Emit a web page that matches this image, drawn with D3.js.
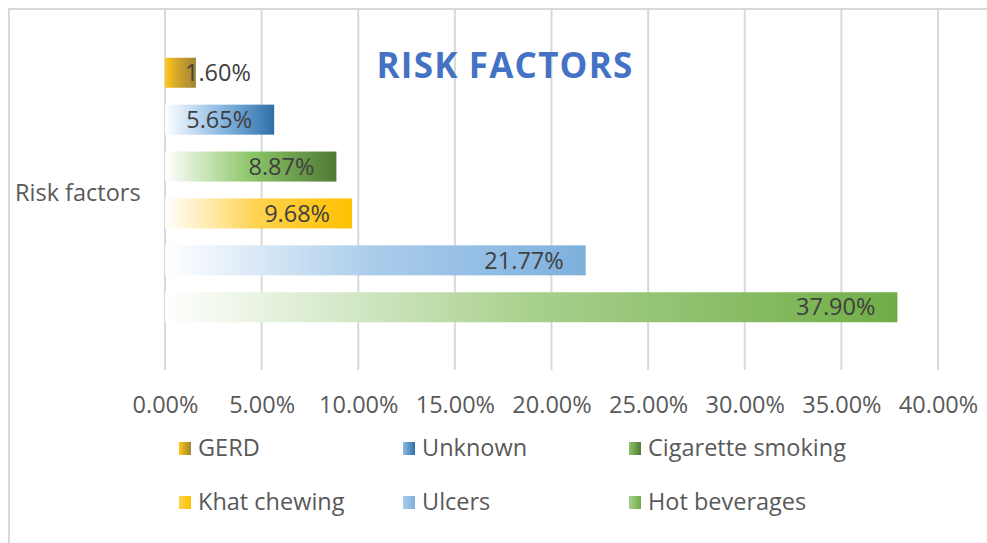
<!DOCTYPE html>
<html><head><meta charset="utf-8">
<script src="https://cdn.jsdelivr.net/npm/d3@7"></script>
<style>body{margin:0;background:#fff;} svg{display:block;} text{font-family:"Open Sans",sans-serif;}</style>
</head><body><svg id="c" width="987" height="543"></svg>
<script>
const category = "Risk factors";
const seriesNames = ["GERD","Unknown","Cigarette smoking","Khat chewing","Ulcers","Hot beverages"];
const seriesValues = [1.60, 5.65, 8.87, 9.68, 21.77, 37.90];
const tickValues = [0,5,10,15,20,25,30,35,40];
const tickLabels = ["0.00%","5.00%","10.00%","15.00%","20.00%","25.00%","30.00%","35.00%","40.00%"];
const seriesColors = [
  ["#FFC91A","#D9A92A","#9E8430"],
  ["#FFFFFF","#8DBBE3","#2E6FA8"],
  ["#FFFFFF","#8CC66A","#4F7A33"],
  ["#FFFFFF","#FFD24D","#FFC000"],
  ["#FFFFFF","#A9CCEB","#7EB0DD"],
  ["#FFFFFF","#A8D08D","#70AD47"]
];
const FS = 23.5;

const svg = d3.select("#c");
const defs = svg.append("defs");
seriesColors.forEach((c,i)=>{
  const g = defs.append("linearGradient").attr("id","g"+i).attr("x1","0").attr("x2","1").attr("y1","0").attr("y2","0");
  g.append("stop").attr("offset","0").attr("stop-color",c[0]);
  g.append("stop").attr("offset", i===0 ? "0.35" : "0.5").attr("stop-color",c[1]);
  g.append("stop").attr("offset","1").attr("stop-color",c[2]);
  const l = defs.append("linearGradient").attr("id","l"+i).attr("x1","0").attr("x2","1").attr("y1","0").attr("y2","0");
  l.append("stop").attr("offset","0").attr("stop-color", i===0 ? c[0] : c[1]);
  l.append("stop").attr("offset","1").attr("stop-color",c[2]);
});

// chart border
svg.append("rect").attr("x",9).attr("y",9).attr("width",1200).attr("height",1200)
  .attr("fill","none").attr("stroke","#D9D9D9").attr("stroke-width",2);

const x = d3.scaleLinear().domain([0,40]).range([165,938]);
const y = d3.scaleBand().domain(seriesNames).range([10,370]).paddingInner(0.36).paddingOuter(1.018);

// gridlines
svg.append("g").selectAll("line").data(tickValues).join("line")
  .attr("x1",d=>x(d)).attr("x2",d=>x(d)).attr("y1",10).attr("y2",370)
  .attr("stroke","#D9D9D9").attr("stroke-width",2);

// x axis labels
const xAxis = d3.axisBottom(x).tickValues(tickValues).tickFormat((d,i)=>tickLabels[i]).tickSize(0).tickPadding(0);
const ax = svg.append("g").attr("transform","translate(0,396)").call(xAxis);
ax.select(".domain").remove();
ax.selectAll("text").attr("font-size",FS).attr("fill","#595959").attr("font-family","Open Sans").attr("dy","0.71em");

// category label
svg.append("text").attr("x",15).attr("y",193).attr("dy","0.35em").attr("font-size",FS).attr("fill","#595959").text(category);

// bars
svg.append("g").selectAll("rect").data(seriesNames).join("rect")
  .attr("x",x(0)).attr("y",d=>y(d)).attr("height",y.bandwidth())
  .attr("width",(d,i)=>x(seriesValues[i])-x(0))
  .attr("fill",(d,i)=>"url(#g"+i+")");

// labels
svg.append("g").selectAll("text").data(seriesNames).join("text")
  .attr("y",d=>y(d)+y.bandwidth()/2).attr("dy","0.35em")
  .attr("font-size",FS).attr("fill","#404040").attr("text-anchor","end")
  .text((d,i)=>seriesValues[i].toFixed(2)+"%")
  .each(function(d,i){
    const w = this.getComputedTextLength();
    const xe = Math.max(x(seriesValues[i]) - 22, x(0) + 20 + w);
    d3.select(this).attr("x", xe);
  });

// title
svg.append("text").attr("x",505).attr("y",66).attr("dy","0.35em").attr("text-anchor","middle")
  .attr("font-size",35).attr("letter-spacing",1.2).attr("font-weight","bold").attr("fill","#4472C4").text("RISK FACTORS");

// legend
const legCols = [179, 403, 629], legRows = [448, 502];
const leg = svg.append("g").selectAll("g").data(seriesNames).join("g")
  .attr("transform",(d,i)=>`translate(${legCols[i%3]},${legRows[Math.floor(i/3)]})`);
leg.append("rect").attr("x",0).attr("y",-6).attr("width",12).attr("height",13).attr("fill",(d,i)=>"url(#l"+i+")");
leg.append("text").attr("x",19).attr("y",0).attr("dy","0.35em").attr("font-size",FS).attr("fill","#595959").text(d=>d);
</script></body></html>
